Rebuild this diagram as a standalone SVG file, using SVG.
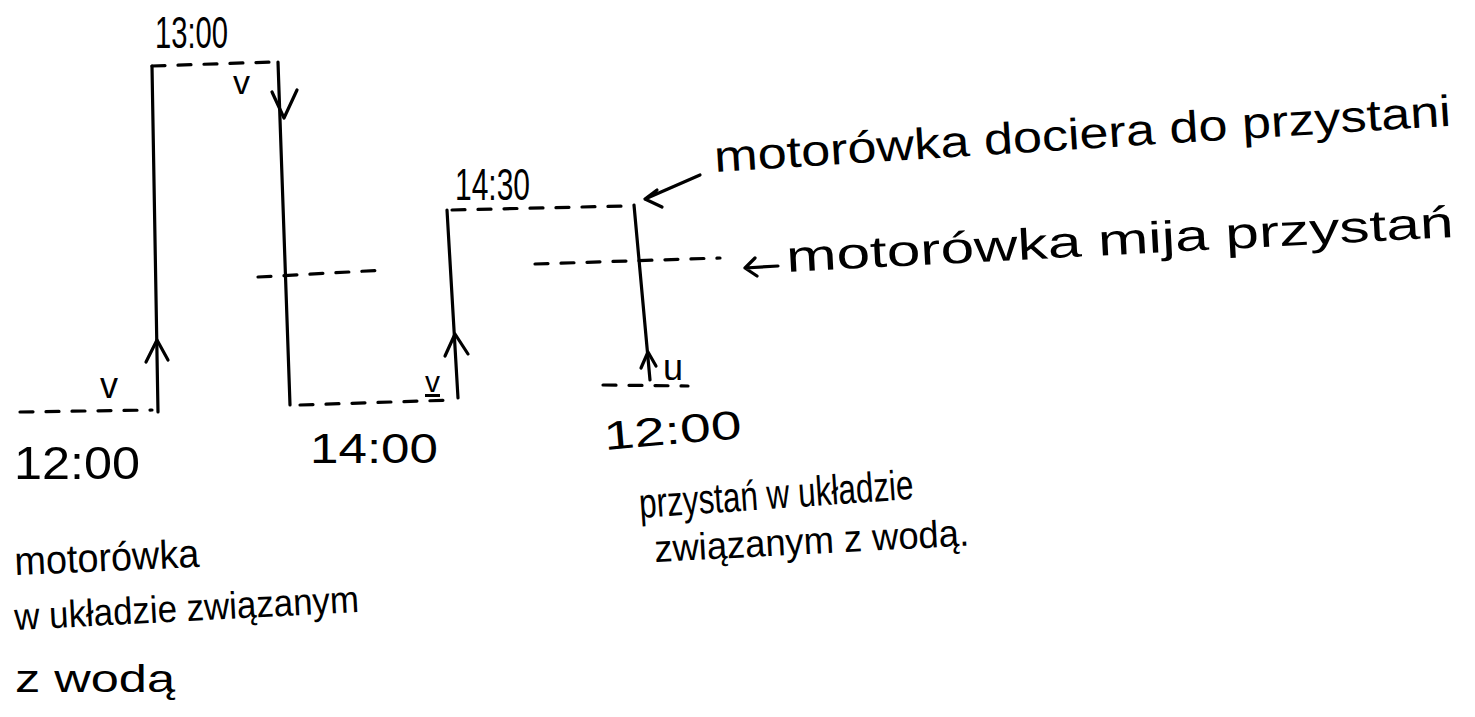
<svg xmlns="http://www.w3.org/2000/svg" width="1475" height="717" viewBox="0 0 1475 717">
<style>
.bg{fill:#fff}
.wl{fill:none;stroke:#000;stroke-width:3.2;stroke-linecap:round}
.dash{fill:none;stroke:#000;stroke-width:3.2;stroke-dasharray:13 13;stroke-linecap:round}
.head{fill:none;stroke:#000;stroke-width:3.2;stroke-linecap:round;stroke-linejoin:round}
.t{font-family:"Liberation Sans","DejaVu Sans",sans-serif;fill:#000}
</style>
<rect class="bg" x="0" y="0" width="1475" height="717"/>
<g id="worldlines">
<g id="boat-out"><path class="wl" d="M152,66 L158,412"/></g>
<g id="boat-back"><path class="wl" d="M278,62 L290,405"/></g>
<g id="pier-water"><path class="wl" d="M447,210 L458,398"/></g>
<g id="pier-boat"><path class="wl" d="M634,205 L650,380"/></g>
</g>
<g id="connectors">
<path class="dash" d="M152,66 L272,62"/>
<path class="dash" d="M20,412 L152,410"/>
<path class="dash" d="M258,277 L385,270"/>
<path class="dash" d="M300,405 L452,400"/>
<path class="dash" d="M452,210 L625,206"/>
<path class="dash" d="M535,264 L720,258"/>
<path class="dash" d="M603,385 L688,386"/>
<path class="head" d="M146,362 L157,340 L168,360"/>
<path class="head" d="M272,92 L284,118 L297,90"/>
<path class="head" d="M445,356 L455,334 L468,354"/>
<path class="head" d="M641,368 L648,352 L656,366"/>
<path class="head" d="M700,175 L645,199 M657,190 L645,199 L662,207"/>
<path class="head" d="M778,266 L745,268 M755,258 L745,268 L757,276"/>
</g>
<g id="labels">
<text class="t" x="155" y="48" font-size="44" textLength="73" lengthAdjust="spacingAndGlyphs">13:00</text>
<text class="t" x="233" y="94" font-size="34">v</text>
<text class="t" x="100" y="398" font-size="36">v</text>
<text class="t" x="425" y="392" font-size="30" text-decoration="underline">v</text>
<text class="t" x="663" y="380" font-size="36">u</text>
<text class="t" x="455" y="200" font-size="44" textLength="75" lengthAdjust="spacingAndGlyphs">14:30</text>
<text class="t" x="14" y="479" font-size="46" textLength="126" lengthAdjust="spacingAndGlyphs">12:00</text>
<text class="t" x="310" y="463" font-size="42" textLength="128" lengthAdjust="spacingAndGlyphs">14:00</text>
<text class="t" x="605" y="450" font-size="40" textLength="138" lengthAdjust="spacingAndGlyphs" transform="rotate(-5 605 450)">12:00</text>
<text class="t" x="715" y="172" font-size="44" textLength="738" lengthAdjust="spacingAndGlyphs" transform="rotate(-3.6 715 172)">motorówka dociera do przystani</text>
<text class="t" x="787" y="272" font-size="44" textLength="668" lengthAdjust="spacingAndGlyphs" transform="rotate(-3 787 272)">motorówka mija przystań</text>
<text class="t" x="15" y="575" font-size="40" textLength="185" lengthAdjust="spacingAndGlyphs" transform="rotate(-2.5 15 575)">motorówka</text>
<text class="t" x="15" y="630" font-size="38" textLength="345" lengthAdjust="spacingAndGlyphs" transform="rotate(-3 15 630)">w układzie związanym</text>
<text class="t" x="15" y="692" font-size="38" textLength="160" lengthAdjust="spacingAndGlyphs">z wodą</text>
<text class="t" x="640" y="518" font-size="42" textLength="275" lengthAdjust="spacingAndGlyphs" transform="rotate(-4 640 518)">przystań w układzie</text>
<text class="t" x="655" y="562" font-size="38" textLength="315" lengthAdjust="spacingAndGlyphs" transform="rotate(-3 655 562)">związanym z wodą.</text>
</g>
</svg>
